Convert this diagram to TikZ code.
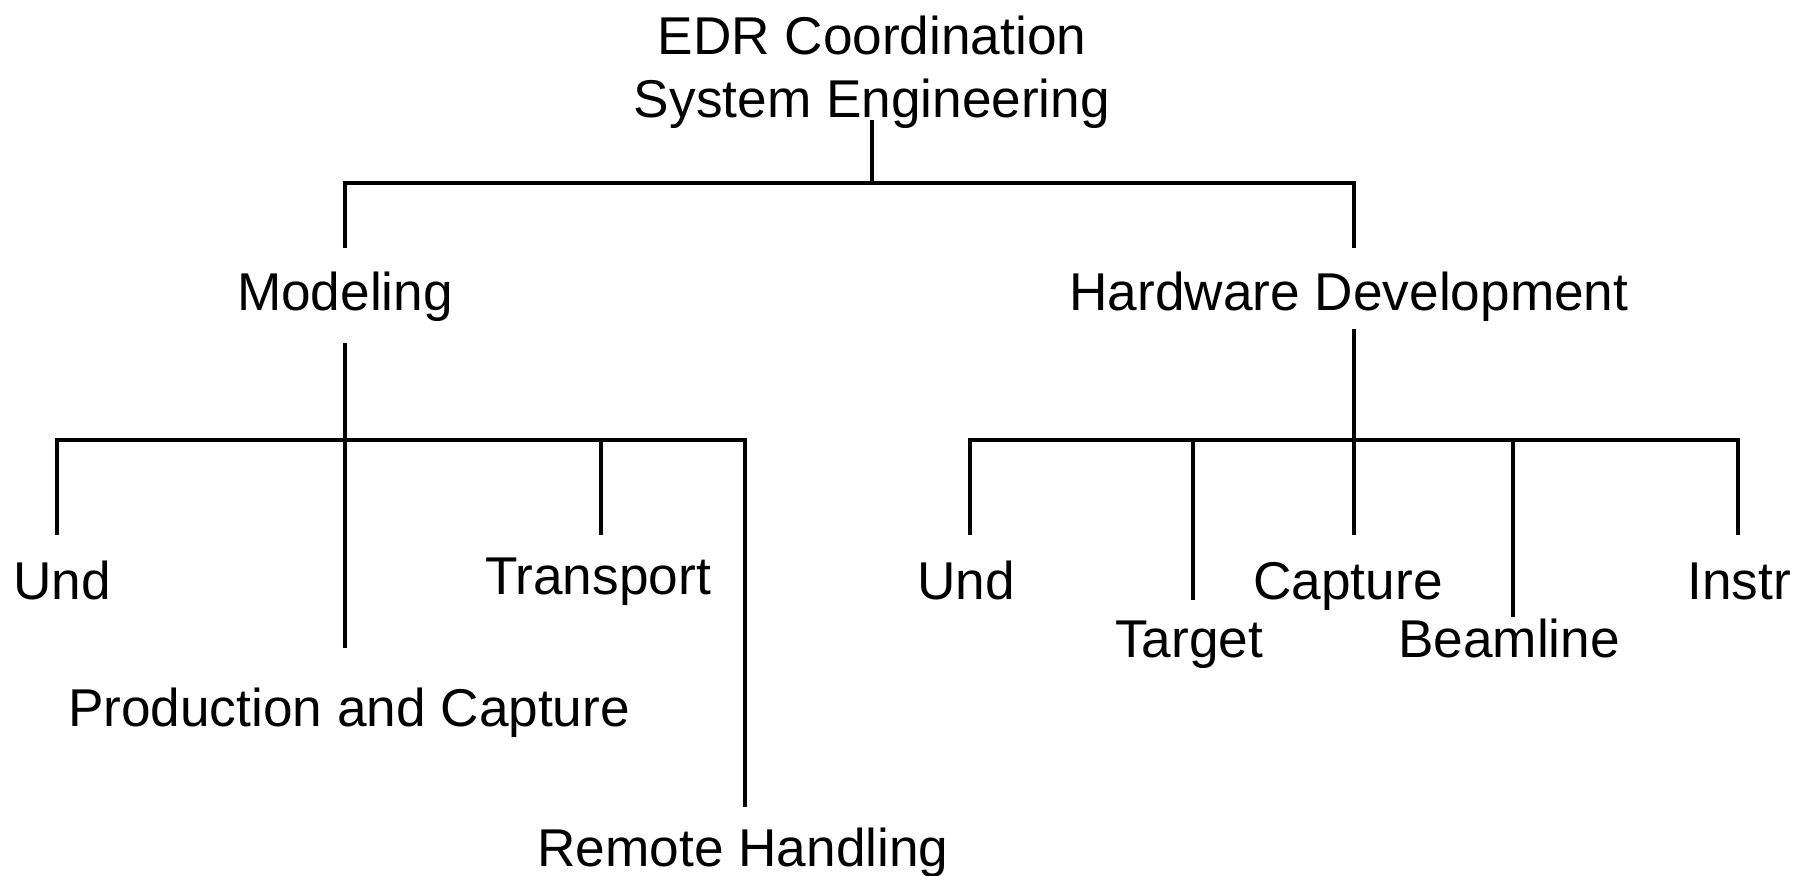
\documentclass[tikz,border=0pt]{standalone}
\usepackage{fontspec}
\setmainfont{Liberation Sans}
\usepackage{tikz}

\begin{document}
\begin{tikzpicture}[x=0.5pt, y=-0.5pt,
    lbl/.style={inner sep=0pt, anchor=base, font=\fontsize{26.6}{31.5}\selectfont},
    branch/.style={line width=1.7pt}]
            \useasboundingbox (0,0) rectangle (1793,876);

            % Nodes
            \node[lbl, align=center] (root) at (872, 118) {EDR Coordination\\System Engineering};
            \node[lbl] (mod) at (345, 311) {Modeling};
            \node[lbl] (hw) at (1349, 311) {Hardware Development};

            \node[lbl] (und1) at (62, 599) {Und};
            \node[lbl] (prod) at (349, 726) {Production and Capture};
            \node[lbl] (trans) at (598, 595) {Transport};
            \node[lbl] (rem) at (743, 866) {Remote Handling};

            \node[lbl] (und2) at (966, 599) {Und};
            \node[lbl] (targ) at (1189, 657) {Target};
            \node[lbl] (capt) at (1348, 599) {Capture};
            \node[lbl] (beam) at (1509, 657) {Beamline};
            \node[lbl, anchor=base west] (instr) at (1687, 599) {Instr};

            % Line ends
            \coordinate (root-s) at (872, 120);
            \coordinate (root-bar) at (872, 183);
            \coordinate (mod-n) at (345, 248);
            \coordinate (hw-n) at (1354, 248);

            \coordinate (mod-s) at (345, 343);
            \coordinate (mod-bar) at (345, 440);
            \coordinate (und1-n) at (57, 535);
            \coordinate (prod-n) at (345, 648);
            \coordinate (trans-n) at (601, 535);
            \coordinate (rem-n) at (745, 807);

            \coordinate (hw-s) at (1354, 329);
            \coordinate (hw-bar) at (1354, 440);
            \coordinate (und2-n) at (970, 535);
            \coordinate (targ-n) at (1193, 600);
            \coordinate (capt-n) at (1354, 535);
            \coordinate (beam-n) at (1513, 617);
            \coordinate (instr-n) at (1738, 535);

            % Lines
            \draw[branch] (root-s) -- (root-bar);
            \draw[branch] (mod-n) |- (root-bar) -| (hw-n);

            \draw[branch] (mod-s) -- (prod-n);
            \draw[branch] (und1-n) |- (mod-bar) -- (rem-n |- mod-bar) -- (rem-n);
            \draw[branch] (trans-n) -- (trans-n |- mod-bar);

            \draw[branch] (hw-s) -- (capt-n);
            \draw[branch] (und2-n) |- (hw-bar) -- (instr-n |- hw-bar) -- (instr-n);
            \draw[branch] (targ-n) -- (targ-n |- hw-bar);
            \draw[branch] (beam-n) -- (beam-n |- hw-bar);
\end{tikzpicture}
\end{document}
